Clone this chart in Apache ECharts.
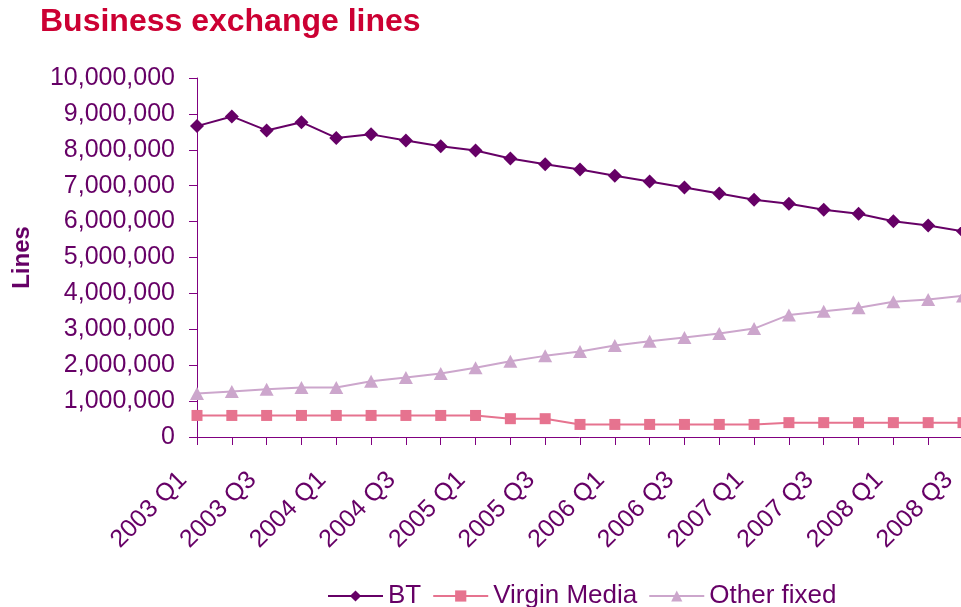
<!DOCTYPE html>
<html>
<head>
<meta charset="utf-8">
<script src="https://cdn.jsdelivr.net/npm/echarts@6/dist/echarts.min.js"></script>
<style>
  html, body { margin: 0; padding: 0; background: #fff; }
  #chart { width: 961px; height: 607px; }
</style>
</head>
<body>
<div id="chart"></div>
<script>
// quarters 2003 Q1 .. 2008 Q3
const quarters = [
  '2003 Q1', '2003 Q2', '2003 Q3', '2003 Q4',
  '2004 Q1', '2004 Q2', '2004 Q3', '2004 Q4',
  '2005 Q1', '2005 Q2', '2005 Q3', '2005 Q4',
  '2006 Q1', '2006 Q2', '2006 Q3', '2006 Q4',
  '2007 Q1', '2007 Q2', '2007 Q3', '2007 Q4',
  '2008 Q1', '2008 Q2', '2008 Q3'
];

const btLines = [
  8660000, 8930000, 8540000, 8770000, 8330000, 8430000, 8260000, 8100000,
  7980000, 7760000, 7600000, 7450000, 7280000, 7120000, 6950000, 6780000,
  6610000, 6500000, 6330000, 6220000, 6010000, 5890000, 5730000
];

const virginLines = [
  600000, 600000, 600000, 600000, 600000, 600000, 600000, 600000,
  600000, 510000, 510000, 350000, 350000, 350000, 350000, 350000,
  350000, 400000, 400000, 400000, 400000, 400000, 400000
];

const otherLines = [
  1210000, 1270000, 1330000, 1380000, 1380000, 1550000, 1660000, 1770000,
  1930000, 2110000, 2260000, 2380000, 2550000, 2670000, 2770000, 2880000,
  3020000, 3400000, 3500000, 3600000, 3770000, 3830000, 3930000
];

const yTicks = [0, 10000000];

const font = '"Liberation Sans", Arial, sans-serif';
const textColor = '#660066';
const axisColor = '#800080';

const chart = echarts.init(document.getElementById('chart'));

chart.setOption({
  animation: false,
  textStyle: { fontFamily: font },
  title: {
    text: 'Business exchange lines',
    left: 40,
    top: 6,
    padding: 0,
    textStyle: { color: '#CC0033', fontSize: 32, fontWeight: 'bold', fontFamily: font }
  },
  legend: {
    left: 322,
    top: 578,
    itemWidth: 55,
    itemHeight: 14,
    itemGap: 11,
    textStyle: { color: textColor, fontSize: 26, fontFamily: font },
    data: ['BT', 'Virgin Media', 'Other fixed']
  },
  grid: {
    left: 197,
    top: 78,
    width: 766,
    height: 359,
    containLabel: false,
    outerBoundsMode: 'none'
  },
  xAxis: {
    type: 'category',
    data: quarters,
    boundaryGap: false,
    axisLine: { lineStyle: { color: axisColor, width: 1 } },
    axisTick: { show: true, interval: 0, length: 8, lineStyle: { color: axisColor } },
    axisLabel: {
      interval: 1,
      rotate: 45,
      margin: 25,
      padding: [0, 20, 0, 0],
      color: textColor,
      fontSize: 25,
      fontFamily: font
    },
    splitLine: { show: false }
  },
  yAxis: {
    type: 'value',
    min: yTicks[0],
    max: yTicks[1],
    interval: 1000000,
    name: 'Lines',
    nameLocation: 'middle',
    nameGap: 163,
    nameTextStyle: { color: textColor, fontSize: 24, fontWeight: 'bold', fontFamily: font },
    axisLine: { show: true, lineStyle: { color: axisColor, width: 1 } },
    axisTick: { show: true, length: 8, lineStyle: { color: axisColor } },
    axisLabel: {
      margin: 22,
      color: textColor,
      fontSize: 25,
      fontFamily: font,
      formatter: function (v) { return v.toLocaleString('en-GB'); }
    },
    splitLine: { show: false }
  },
  series: [
    {
      name: 'BT',
      type: 'line',
      data: btLines,
      symbol: 'diamond',
      symbolSize: 14,
      lineStyle: { color: '#660066', width: 2 },
      itemStyle: { color: '#660066' }
    },
    {
      name: 'Virgin Media',
      type: 'line',
      data: virginLines,
      symbol: 'rect',
      symbolSize: 11,
      lineStyle: { color: '#E6738F', width: 2 },
      itemStyle: { color: '#E6738F' }
    },
    {
      name: 'Other fixed',
      type: 'line',
      data: otherLines,
      symbol: 'triangle',
      symbolSize: [14, 13],
      lineStyle: { color: '#CCA6CC', width: 2 },
      itemStyle: { color: '#CCA6CC' }
    }
  ]
});
</script>
</body>
</html>
